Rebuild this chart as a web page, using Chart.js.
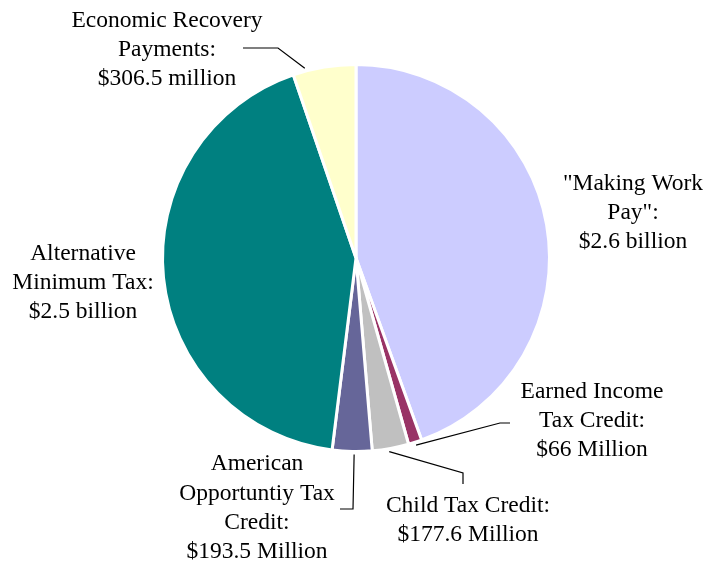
<!DOCTYPE html>
<html>
<head>
<meta charset="utf-8">
<script src="https://cdn.jsdelivr.net/npm/chart.js@4"></script>
<style>
html,body{margin:0;padding:0;background:#fff;}
#wrap{width:708px;height:565px;position:relative;}
</style>
</head>
<body>
<div id="wrap"><canvas id="c" width="708" height="565"></canvas></div>
<script>
// Data
const categories = ['"Making Work Pay"', 'Earned Income Tax Credit', 'Child Tax Credit', 'American Opportuntiy Tax Credit', 'Alternative Minimum Tax', 'Economic Recovery Payments'];
const valuesMillions = [2600, 66, 177.6, 193.5, 2500, 306.5];
const labelLines = [
  ['"Making Work', 'Pay":', '$2.6 billion'],
  ['Earned Income', 'Tax Credit:', '$66 Million'],
  ['Child Tax Credit:', '$177.6 Million'],
  ['American', 'Opportuntiy Tax', 'Credit:', '$193.5 Million'],
  ['Alternative', 'Minimum Tax:', '$2.5 billion'],
  ['Economic Recovery', 'Payments:', '$306.5 million']
];
const sliceColors = ['#CCCCFF', '#993366', '#C0C0C0', '#666699', '#008080', '#FFFFCC'];

// label layout (offsets from pie center, px); leader: attach fraction within slice + elbow points
const labelPos = [
  {dx: 277, dy: -45, leader: null},
  {dx: 236, dy: 163, leader: {frac: 0.5, pts: [[144, 165], [154, 165]]}},
  {dx: 112, dy: 262, leader: {frac: 0.55, pts: [[107, 215], [107, 226]]}},
  {dx: -99, dy: 250, leader: {frac: 0.45, pts: [[-3, 251], [-16, 251]]}},
  {dx: -273, dy: 25, leader: null},
  {dx: -189, dy: -208, leader: {frac: 0.2, pts: [[-78, -210], [-113, -210]]}}
];

const labelPlugin = {
  id: 'sliceLabels',
  afterDatasetsDraw(chart) {
    const ctx = chart.ctx;
    const meta = chart.getDatasetMeta(0);
    const arc0 = meta.data[0];
    const cx = arc0.x, cy = arc0.y;
    ctx.save();
    ctx.font = '23.5px "Liberation Serif", serif';
    ctx.fillStyle = '#000';
    ctx.textAlign = 'center';
    ctx.textBaseline = 'middle';
    const lh = 29.3;
    meta.data.forEach((arc, i) => {
      const lp = labelPos[i];
      const lines = labelLines[i];
      const x = cx + lp.dx;
      const y0 = cy + lp.dy - (lines.length - 1) * lh / 2;
      lines.forEach((t, k) => ctx.fillText(t, x, y0 + k * lh));
      if (lp.leader) {
        const a = arc.startAngle + (arc.endAngle - arc.startAngle) * lp.leader.frac;
        const r = arc.outerRadius + 3;
        ctx.beginPath();
        ctx.strokeStyle = '#000';
        ctx.lineWidth = 1.2;
        ctx.moveTo(cx + r * Math.cos(a), cy + r * Math.sin(a));
        lp.leader.pts.forEach(p => ctx.lineTo(cx + p[0], cy + p[1]));
        ctx.stroke();
      }
    });
    ctx.restore();
  }
};

new Chart(document.getElementById('c'), {
  type: 'pie',
  data: {
    labels: categories,
    datasets: [{
      data: valuesMillions,
      backgroundColor: sliceColors,
      borderColor: '#ffffff',
      borderWidth: 3
    }]
  },
  options: {
    responsive: false,
    animation: false,
    devicePixelRatio: 1,
    layout: {padding: {left: 161, right: 157, top: 63, bottom: 112}},
    plugins: {legend: {display: false}, tooltip: {enabled: false}, title: {display: false}}
  },
  plugins: [labelPlugin]
});
</script>
</body>
</html>
